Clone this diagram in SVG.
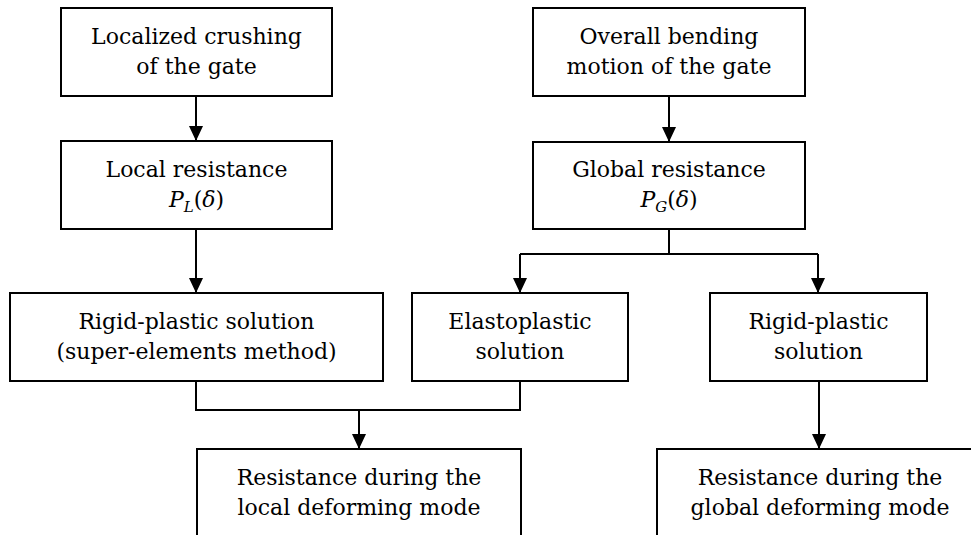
<svg xmlns="http://www.w3.org/2000/svg" width="971" height="535" viewBox="0 0 971 535">
<style>
.box{fill:#fff;stroke:#000;stroke-width:2}
.t{font-family:"DejaVu Serif","Liberation Serif",serif;font-size:22px;fill:#000;text-anchor:middle}
.m{font-style:italic}
.c{fill:none;stroke:#000;stroke-width:2}
</style>
<defs>
<marker id="ah" viewBox="0 0 15 14" refX="15" refY="7" markerWidth="15" markerHeight="14" markerUnits="userSpaceOnUse" orient="auto">
<path d="M0,0 L15,7 L0,14 z" fill="#000"/>
</marker>
</defs>
<rect width="971" height="535" fill="#fff"/>
<g id="connectors">
<line class="c" x1="196" y1="96" x2="196" y2="141" marker-end="url(#ah)"/>
<line class="c" x1="196" y1="229" x2="196" y2="293" marker-end="url(#ah)"/>
<line class="c" x1="669" y1="96" x2="669" y2="142" marker-end="url(#ah)"/>
<polyline class="c" points="669,229 669,254"/>
<polyline class="c" points="520,254 818,254"/>
<line class="c" x1="520" y1="254" x2="520" y2="293" marker-end="url(#ah)"/>
<line class="c" x1="818" y1="254" x2="818" y2="293" marker-end="url(#ah)"/>
<polyline class="c" points="196,381 196,410 520,410 520,381"/>
<line class="c" x1="359" y1="410" x2="359" y2="449" marker-end="url(#ah)"/>
<line class="c" x1="819" y1="381" x2="819" y2="449" marker-end="url(#ah)"/>
</g>
<g id="nodeA">
<rect class="box" x="61" y="8" width="271" height="88"/>
<text class="t" x="196.5" y="44">Localized crushing</text>
<text class="t" x="196.5" y="74">of the gate</text>
</g>
<g id="nodeB">
<rect class="box" x="61" y="141" width="271" height="88"/>
<text class="t" x="196.5" y="177">Local resistance</text>
<text class="t" x="196.5" y="207"><tspan class="m">P</tspan><tspan class="m" font-size="15" dy="5">L</tspan><tspan dy="-5">(</tspan><tspan class="m">δ</tspan>)</text>
</g>
<g id="nodeC">
<rect class="box" x="10" y="293" width="373" height="88"/>
<text class="t" x="196.5" y="329">Rigid-plastic solution</text>
<text class="t" x="196.5" y="359">(super-elements method)</text>
</g>
<g id="nodeD">
<rect class="box" x="533" y="8" width="272" height="88"/>
<text class="t" x="669" y="44">Overall bending</text>
<text class="t" x="669" y="74">motion of the gate</text>
</g>
<g id="nodeE">
<rect class="box" x="533" y="142" width="272" height="87"/>
<text class="t" x="669" y="177">Global resistance</text>
<text class="t" x="669" y="207"><tspan class="m">P</tspan><tspan class="m" font-size="15" dy="5">G</tspan><tspan dy="-5">(</tspan><tspan class="m">δ</tspan>)</text>
</g>
<g id="nodeF">
<rect class="box" x="412" y="293" width="216" height="88"/>
<text class="t" x="520" y="329">Elastoplastic</text>
<text class="t" x="520" y="359">solution</text>
</g>
<g id="nodeG">
<rect class="box" x="710" y="293" width="217" height="88"/>
<text class="t" x="818.5" y="329">Rigid-plastic</text>
<text class="t" x="818.5" y="359">solution</text>
</g>
<g id="nodeH">
<rect class="box" x="197" y="449" width="324" height="100"/>
<text class="t" x="359" y="485">Resistance during the</text>
<text class="t" x="359" y="515">local deforming mode</text>
</g>
<g id="nodeI">
<rect class="box" x="657" y="449" width="326" height="100"/>
<text class="t" x="820" y="485">Resistance during the</text>
<text class="t" x="820" y="515">global deforming mode</text>
</g>
</svg>
